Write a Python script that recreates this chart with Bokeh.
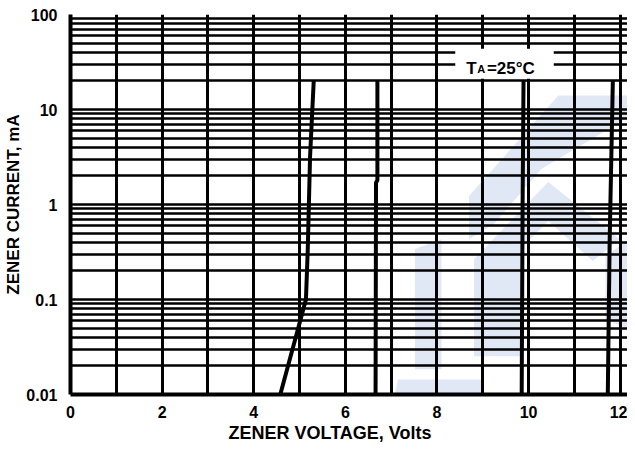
from bokeh.plotting import figure
from bokeh.models import FixedTicker, CustomJSTickFormatter, Label, BoxAnnotation, Range1d, Title
from bokeh.embed import file_html
from bokeh.resources import INLINE

# ---- data ----
# Zener current (mA) vs zener voltage (V), four devices
curve_a_v = [4.58, 5.14, 5.18, 5.23, 5.31]
curve_a_i = [0.01, 0.1, 0.34, 3.2, 20]
curve_b_v = [6.66, 6.67, 6.70, 6.70]
curve_b_i = [0.01, 1.7, 1.8, 20]
curve_c_v = [9.85, 9.87, 9.89]
curve_c_i = [0.01, 1.0, 20]
curve_d_v = [11.73, 11.77, 11.84]
curve_d_i = [0.01, 0.4, 20]

x_major = [0, 2, 4, 6, 8, 10, 12]
x_minor = [1, 3, 5, 7, 9, 11]
y_major = [0.01, 0.1, 1, 10, 100]
y_minor = [m * d for d in [0.01, 0.1, 1, 10] for m in range(2, 10)]

x_title = "ZENER VOLTAGE, Volts"
y_title = "ZENER CURRENT, mA"

# faint background watermark (light-blue logo), in data units
wm_xs = [
    [10.65, 12.2, 12.2, 10.28, 9.24, 8.70, 8.70],
    [10.43, 11.99, 11.40, 10.43, 9.83, 9.83, 8.81, 8.81],
    [7.52, 8.10, 8.10, 7.52],
    [7.15, 8.96, 9.03, 7.08],
    [11.68, 12.2, 12.2, 11.68],
]
wm_ys = [
    [14.0, 14.0, 8.4, 2.37, 0.62, 0.43, 1.23],
    [1.73, 0.43, 0.254, 0.67, 0.34, 0.0252, 0.0252, 0.266],
    [0.34, 0.43, 0.0184, 0.0184],
    [0.0144, 0.0144, 0.01, 0.01],
    [0.286, 0.43, 0.0485, 0.062],
]

FONT = "Liberation Sans"

p = figure(width=627, height=445, y_axis_type="log",
           x_range=Range1d(0, 12.16), y_range=Range1d(0.01, 100),
           output_backend="svg", toolbar_location=None,
           min_border_left=66, min_border_right=0,
           min_border_top=14, min_border_bottom=51)
p.outline_line_color = None
p.background_fill_color = "white"

wm = p.patches(wm_xs, wm_ys, fill_color="#e1e8f5", line_color=None)
wm.level = "image"

xt = FixedTicker(ticks=x_major, minor_ticks=x_minor)
yt = FixedTicker(ticks=y_major, minor_ticks=y_minor)
p.xaxis.ticker = xt
p.yaxis.ticker = yt
p.xgrid.ticker = xt
p.ygrid.ticker = yt
p.yaxis.formatter = CustomJSTickFormatter(code="return tick.toString();")

for g in (p.xgrid, p.ygrid):
    g.grid_line_color = "black"
    g.grid_line_alpha = 1
    g.minor_grid_line_color = "black"
p.xgrid.grid_line_width = 3
p.xgrid.minor_grid_line_width = 3
p.ygrid.grid_line_width = 2.5
p.ygrid.minor_grid_line_width = 2.5

for ax in (p.xaxis, p.yaxis):
    ax.axis_line_color = "black"
    ax.axis_line_width = 4
    ax.major_tick_line_color = None
    ax.minor_tick_line_color = None
    ax.major_label_text_font = FONT
    ax.major_label_text_font_style = "bold"
    ax.major_label_text_color = "black"
    ax.major_label_text_font_size = "16px"

p.xaxis.major_label_standoff = 5
p.yaxis.major_label_standoff = 7

p.add_layout(Title(text=x_title, align="left", offset=158, standoff=0,
                   text_font=FONT, text_font_style="bold",
                   text_font_size="18px", text_color="black"), "below")
p.add_layout(Title(text=y_title, align="center", offset=19, standoff=2,
                   text_font=FONT, text_font_style="bold",
                   text_font_size="17px", text_color="black"), "left")

for xs, ys in ((curve_a_v, curve_a_i), (curve_b_v, curve_b_i),
               (curve_c_v, curve_c_i), (curve_d_v, curve_d_i)):
    p.line(xs, ys, line_color="black", line_width=4)

# temperature annotation
note_box = dict(left=8.4, right=10.55, bottom=21.1, top=43.7)
p.add_layout(BoxAnnotation(**note_box, fill_color="white", fill_alpha=1,
                           line_color=None))
note_y = 26.9
for txt, xx, size in (("T", 8.64, "17px"), ("A", 8.88, "11px"), ("=25°C", 9.09, "17px")):
    p.add_layout(Label(x=xx, y=note_y, text=txt, text_font=FONT,
                       text_font_style="bold", text_font_size=size,
                       text_color="black", text_baseline="alphabetic",
                       text_align="left"))

open("out.html", "w").write(file_html(p, INLINE))
